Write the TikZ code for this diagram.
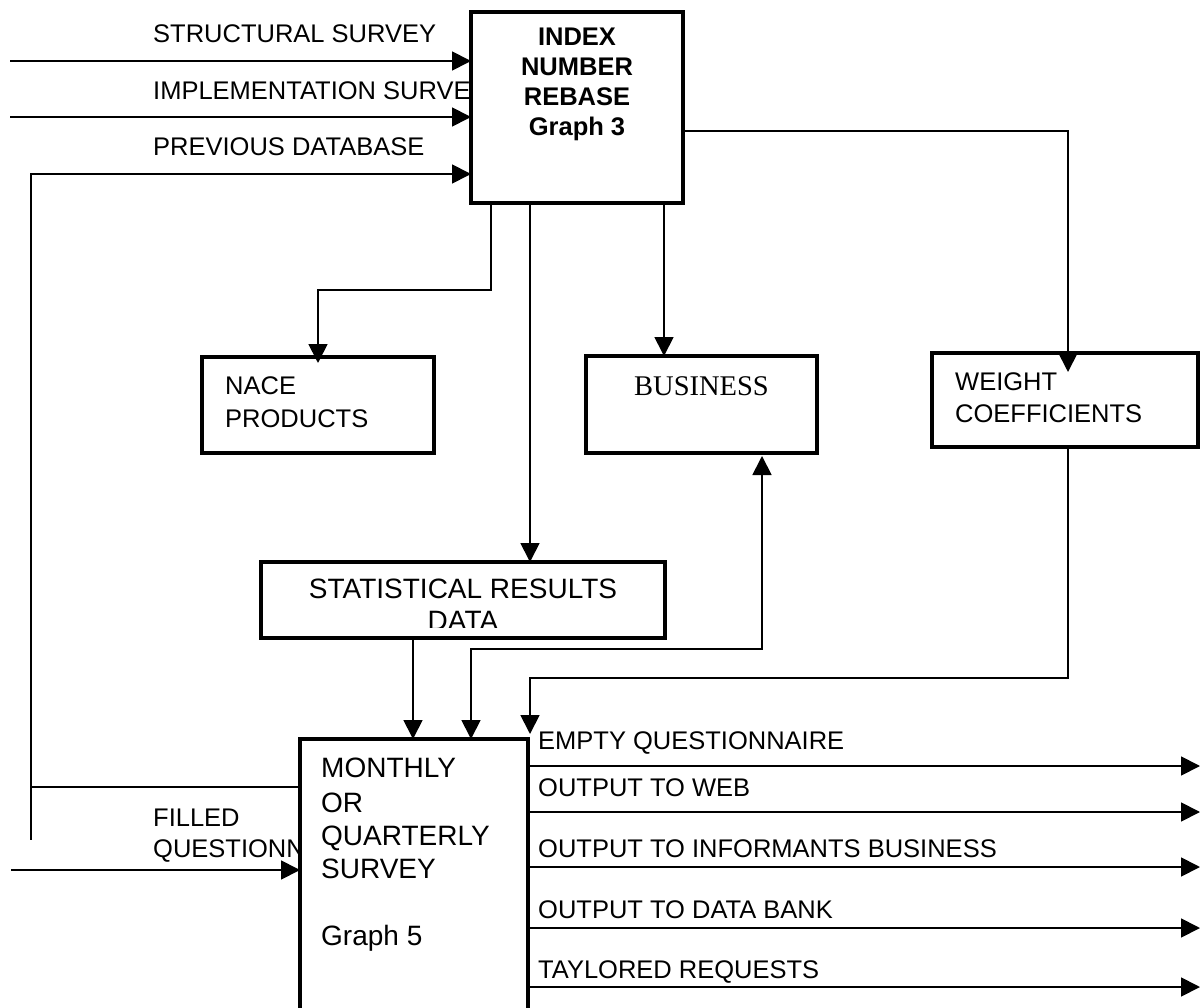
\documentclass[tikz,border=0pt]{standalone}
\usepackage{fontspec}
\setmainfont{Liberation Sans}
\newfontfamily\timesfont{Liberation Serif}
\usetikzlibrary{arrows.meta}
\begin{document}
\begin{tikzpicture}[x=1pt,y=-1pt,
  blk/.style={draw,line width=3.5pt,fill=white,inner sep=0pt,outer sep=0pt,anchor=north west},
  conn/.style={line width=1.8pt,-{Triangle[length=19pt,width=19pt]}},
  biconn/.style={line width=1.8pt,{Triangle[length=19pt,width=19pt]}-{Triangle[length=19pt,width=19pt]}},
  wire/.style={line width=1.8pt},
  lbl/.style={inner sep=0pt,anchor=base west,font=\fontsize{25.5}{30}\selectfont},
  biglbl/.style={lbl,font=\fontsize{28}{33}\selectfont},
  clbl/.style={lbl,anchor=base},
  hdr/.style={clbl,font=\fontsize{25.5}{30}\selectfont\bfseries}]
\useasboundingbox (0,0) rectangle (1202,1008);
\clip (0,0) rectangle (1202,1008);

% input labels (partly hidden by the boxes drawn afterwards)
\node[lbl] (tstruct) at (153,43)  {STRUCTURAL SURVEY};
\node[lbl] (timpl)   at (153,100) {IMPLEMENTATION SURVEY};
\node[lbl] (tprev)   at (153,156) {PREVIOUS DATABASE};
\node[lbl] (tfill1)  at (153,826) {FILLED};
\node[lbl] (tfill2)  at (153,857) {QUESTIONNAIRE};

% boxes
\node[blk,minimum width=212pt,minimum height=191pt] (index)    at (471,12)  {};
\node[blk,minimum width=232pt,minimum height=96pt]  (nace)     at (202,357) {};
\node[blk,minimum width=231pt,minimum height=97pt]  (business) at (586,356) {};
\node[blk,minimum width=266pt,minimum height=94pt]  (weight)   at (932,353) {};
\node[blk,minimum width=404pt,minimum height=76pt]  (stat)     at (261,562) {};
\node[blk,minimum width=228pt,minimum height=320pt] (monthly)  at (300,739) {};

% box texts
\node[hdr] (t1) at (577,46)  {INDEX};
\node[hdr] (t2) at (577,76)  {NUMBER};
\node[hdr] (t3) at (577,106) {REBASE};
\node[hdr] (t4) at (577,136) {Graph 3};

\node[lbl] (tnace1) at (225,394) {NACE};
\node[lbl] (tnace2) at (225,427) {PRODUCTS};

\node[clbl,font=\fontsize{28.5}{32}\timesfont] (tbus) at (701.5,395) {BUSINESS};

\node[lbl] (tw1) at (955,390) {WEIGHT};
\node[lbl] (tw2) at (955,422) {COEFFICIENTS};

\node[biglbl,anchor=base] (ts1) at (463,598) {STATISTICAL RESULTS};
\begin{scope}
  \clip (261,600) rectangle (665,627);
  \node[biglbl,anchor=base] (ts2) at (463,630) {DATA};
\end{scope}

\node[biglbl] (tm1) at (321,777) {MONTHLY};
\node[biglbl] (tm2) at (321,812) {OR};
\node[biglbl] (tm3) at (321,845) {QUARTERLY};
\node[biglbl] (tm4) at (321,878) {SURVEY};
\node[biglbl] (tm5) at (321,945) {Graph 5};

% output labels
\node[lbl] (to1) at (538,749) {EMPTY QUESTIONNAIRE};
\node[lbl] (to2) at (538,796) {OUTPUT TO WEB};
\node[lbl] (to3) at (538,857) {OUTPUT TO INFORMANTS BUSINESS};
\node[lbl] (to4) at (538,918) {OUTPUT TO DATA BANK};
\node[lbl] (to5) at (538,978) {TAYLORED REQUESTS};

% free ends of connectors
\coordinate (in1) at (10,61);
\coordinate (in2) at (10,117);
\coordinate (loopx) at (31,174);
\coordinate (stub) at (31,840);
\coordinate (in4) at (11,870);
\coordinate (o1) at (1200,766);
\coordinate (o2) at (1200,812);
\coordinate (o3) at (1200,867);
\coordinate (o4) at (1200,928);
\coordinate (o5) at (1200,987);

% inputs to the rebase box
\draw[conn] (in1) -- (in1 -| index.west);
\draw[conn] (in2) -- (in2 -| index.west);
\draw[conn] ([yshift=-48pt]monthly.north west) -| (loopx) -- (loopx -| index.west);
\draw[wire] (loopx |- monthly.north west) ++(0,48) -- (stub);
\draw[conn] (in4) -- (in4 -| monthly.west);

% rebase box outputs
\draw[conn] ([xshift=20pt]index.south west) -- ++(0,87) -| ([yshift=-6pt]nace.north);
\draw[conn] ([xshift=59pt]index.south west) -- ([xshift=59pt]index.south west |- stat.north);
\draw[conn] ([xshift=193pt]index.south west) -- ([xshift=193pt]index.south west |- business.north);
\draw[conn] ([yshift=-23.5pt]index.east) -| ([xshift=3pt,yshift=-19pt]weight.north);

% inputs to the survey box
\draw[conn] ([xshift=152pt]stat.south west) -- ([xshift=152pt]stat.south west |- monthly.north);
\draw[biconn] ([xshift=176pt,yshift=-3pt]business.south west) -- ++(0,193) -| ([xshift=171pt]monthly.north west);
\draw[conn] ([xshift=136pt]weight.south west) -- ++(0,231) -| ([xshift=2pt,yshift=5pt]monthly.north east);

% survey outputs
\draw[conn] (monthly.east |- o1) -- (o1);
\draw[conn] (monthly.east |- o2) -- (o2);
\draw[conn] (monthly.east |- o3) -- (o3);
\draw[conn] (monthly.east |- o4) -- (o4);
\draw[conn] (monthly.east |- o5) -- (o5);
\end{tikzpicture}
\end{document}
